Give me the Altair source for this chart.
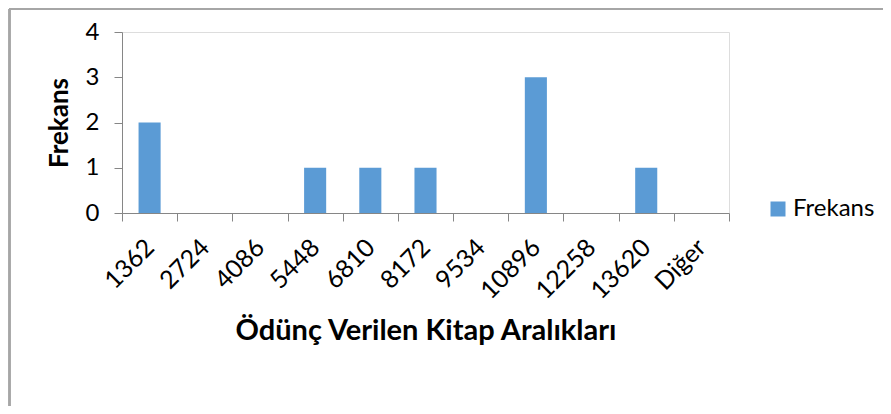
import altair as alt
import pandas as pd

categories = ["1362", "2724", "4086", "5448", "6810", "8172", "9534", "10896", "12258", "13620", "Diğer"]
values = [2, 0, 0, 1, 1, 1, 0, 3, 0, 1, 0]
series = ["Frekans"] * len(categories)

df = pd.DataFrame({"Aralik": categories, "Frekans": values, "Seri": series})

FONT = "Lato"
AX = "#868686"

bars = alt.Chart(df).mark_bar(width=alt.RelativeBandSize(0.4)).encode(
    x=alt.X(
        "Aralik:N",
        sort=categories,
        scale=alt.Scale(paddingInner=0, paddingOuter=0),
        axis=alt.Axis(
            title="Ödünç Verilen Kitap Aralıkları",
            titleFont=FONT, titleFontSize=29, titleFontWeight="bold", titleColor="#000000",
            titlePadding=13,
            labelAngle=-45, labelAlign="right", labelBaseline="middle",
            labelFont=FONT, labelFontSize=25, labelColor="#000000", labelPadding=22,
            tickBand="extent", tickSize=8, tickColor=AX, domainColor=AX,
            labelOverlap=False,
        ),
    ),
    y=alt.Y(
        "Frekans:Q",
        scale=alt.Scale(domain=[0, 4], nice=False),
        axis=alt.Axis(
            title="Frekans",
            titleFont=FONT, titleFontSize=26, titleFontWeight="bold", titleColor="#000000",
            titlePadding=13,
            values=[0, 1, 2, 3, 4], format="d", grid=False,
            labelFont=FONT, labelFontSize=24, labelColor="#000000", labelPadding=15,
            tickSize=8, tickColor=AX, domainColor=AX,
        ),
    ),
    color=alt.Color(
        "Seri:N",
        scale=alt.Scale(range=["#5B9BD5"]),
        legend=alt.Legend(
            title=None, orient="none", legendX=644, legendY=165, padding=0,
            symbolType="square", symbolSize=225, symbolStrokeWidth=0,
            labelFont=FONT, labelFontSize=24, labelColor="#000000", labelOffset=3,
        ),
    ),
)

border_left = alt.Chart(df).mark_rule(color="#a6a6a6", strokeWidth=1.5).encode(
    x=alt.value(-112.5), y=alt.value(-23), y2=alt.value(380)
)
border_top = alt.Chart(df).mark_rule(color="#a6a6a6", strokeWidth=1.5).encode(
    x=alt.value(-112.5), x2=alt.value(800), y=alt.value(-23)
)

chart = alt.layer(bars, border_left, border_top).properties(
    width=607, height=181,
    autosize=alt.AutoSizeParams(type="none"),
    padding={"left": 114, "top": 24, "right": 154, "bottom": 193},
).configure_view(stroke=None).configure(background="white")

chart.save("out.html", embed_options={"renderer": "svg", "actions": False})
